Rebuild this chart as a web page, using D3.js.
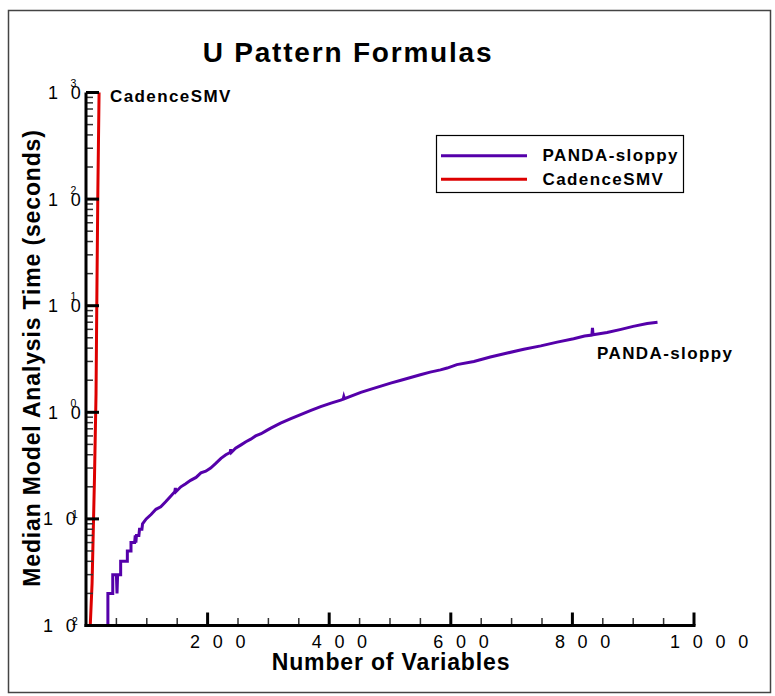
<!DOCTYPE html>
<html><head><meta charset="utf-8">
<script src="https://cdn.jsdelivr.net/npm/d3@7"></script>
<style>
body{margin:0;background:#fff}
svg{display:block}
text{font-family:"Liberation Sans",Arial,Helvetica,sans-serif;fill:#000}
</style>
</head><body>
<svg id="chart" width="775" height="696"></svg>
<script>
// ---- data ----
const chartTitle = "U Pattern Formulas";
const xTitle = "Number of Variables";
const yTitle = "Median Model Analysis Time (seconds)";
const seriesNames = ["PANDA-sloppy", "CadenceSMV"];
const seriesColors = ["#5500aa", "#dd0000"];
const xTickValues = [200, 400, 600, 800, 1000];
const xMinorValues = [50,100,150,250,300,350,450,500,550,650,700,750,850,900,950];
const yTickValues = [0.01, 0.1, 1, 10, 100, 1000];
const yTickExponents = ["2", "1", "0", "1", "2", "3"];

const pandaVars  = [36,36,44,44,50,51,52,57,57,68,68,74,74,80,81,82,83,87,88,92,93,
  99,107,115,123,131,140,146,147,148,156,164,172,181,189,197,205,213,222,230,237,238,239,246,255,263,271,279,288,296,304,312,320,337,353,370,386,403,419,423,424,425,436,452,469,485,501,518,534,550,566,583,594,610,638,665,693,720,748,775,802,820,832,833,834,857,880,900,923,940];
const pandaTimes = [0.01,0.02,0.02,0.03,0.03,0.02,0.03,0.03,0.04,0.04,0.05,0.05,0.06,0.06,0.07,0.06,0.07,0.07,0.08,0.08,0.09,
  0.1,0.11,0.123,0.13,0.145,0.165,0.18,0.195,0.18,0.2,0.214,0.23,0.245,0.27,0.28,0.3,0.33,0.37,0.4,0.42,0.45,0.42,0.46,0.495,0.53,0.56,0.6,0.63,0.67,0.71,0.75,0.79,0.87,0.95,1.04,1.13,1.22,1.3,1.33,1.4,1.34,1.42,1.54,1.65,1.76,1.88,2.0,2.12,2.25,2.38,2.5,2.6,2.8,3.0,3.3,3.6,3.9,4.2,4.55,4.9,5.2,5.3,6.2,5.35,5.6,6.0,6.4,6.8,7.0];

const smvVars  = [7, 10, 14, 16.5, 18, 19.5, 21.5];
const smvTimes = [0.01, 0.025, 0.25, 1.5, 15, 120, 1000];

// ---- drawing ----
const svg = d3.select("#chart");
const x = d3.scaleLinear().domain([0, 1000]).range([86, 694]);
const y = d3.scaleLog().domain([0.01, 1000]).range([625.5, 92.5]);

// outer frame
svg.append("rect").attr("x", 8.5).attr("y", 10.5).attr("width", 762).attr("height", 682)
  .attr("fill", "none").attr("stroke", "#444").attr("stroke-width", 1.5);

// title
svg.append("text").attr("x", 348).attr("y", 62).attr("text-anchor", "middle")
  .style("font-size", "28px").style("font-weight", "bold").style("letter-spacing", "1.8px")
  .text(chartTitle);

// lines
const line = d3.line().x(d => x(d[0])).y(d => y(d[1]));
const pandaData = pandaVars.map((v, i) => [v, pandaTimes[i]]);
const smvData = smvVars.map((v, i) => [v, smvTimes[i]]);
svg.append("path").datum(pandaData).attr("d", line).attr("fill", "none")
  .attr("stroke", seriesColors[0]).attr("stroke-width", 3).attr("stroke-linejoin", "miter");
svg.append("path").datum(smvData).attr("d", line).attr("fill", "none")
  .attr("stroke", seriesColors[1]).attr("stroke-width", 3);

// y minor ticks
const yMinor = [];
yTickValues.slice(0, -1).forEach(d => { for (let k = 2; k <= 9; k++) yMinor.push(d * k); });
svg.append("g").selectAll("line").data(yMinor).join("line")
  .attr("x1", x(0)).attr("x2", x(0) + 7).attr("y1", d => y(d)).attr("y2", d => y(d))
  .attr("stroke", "#333").attr("stroke-width", 1.5);
// y major ticks
svg.append("g").selectAll("line").data(yTickValues).join("line")
  .attr("x1", x(0)).attr("x2", x(0) + 13).attr("y1", d => y(d)).attr("y2", d => y(d))
  .attr("stroke", "#000").attr("stroke-width", 3);
// x minor ticks
svg.append("g").selectAll("line").data(xMinorValues).join("line")
  .attr("x1", d => x(d)).attr("x2", d => x(d)).attr("y1", y(0.01)).attr("y2", y(0.01) - 7.5)
  .attr("stroke", "#333").attr("stroke-width", 1.5);
// x major ticks
svg.append("g").selectAll("line").data(xTickValues).join("line")
  .attr("x1", d => x(d)).attr("x2", d => x(d)).attr("y1", y(0.01)).attr("y2", y(0.01) - 13)
  .attr("stroke", "#000").attr("stroke-width", 3);

// axis lines
svg.append("line").attr("x1", x(0)).attr("x2", x(0)).attr("y1", y(0.01) + 1.5).attr("y2", y(1000))
  .attr("stroke", "#000").attr("stroke-width", 3);
svg.append("line").attr("x1", x(0) - 1.5).attr("x2", x(1000) + 1.5).attr("y1", y(0.01)).attr("y2", y(0.01))
  .attr("stroke", "#000").attr("stroke-width", 3);

// x tick labels
svg.append("g").selectAll("text").data(xTickValues).join("text")
  .attr("x", d => x(d) - (String(d).length === 4 ? 24 : 17.5)).attr("y", 647.5)
  .style("font-size", "18px").style("letter-spacing", "3.85px")
  .text(d => String(d).split("").join(" "));

// y tick labels
const yl = svg.append("g");
yTickValues.forEach((d, i) => {
  const neg = d < 1;
  yl.append("text").attr("x", neg ? 43 : 48).attr("y", y(d) + 6.5)
    .style("font-size", "18px").style("letter-spacing", "3.85px").text("1 0");
  yl.append("text").attr("x", neg ? 72 : 70.5).attr("y", y(d) + (neg ? -1 : -5.5))
    .style("font-size", "10.5px").text(yTickExponents[i]);
});

// axis titles
svg.append("text").attr("x", 391).attr("y", 670).attr("text-anchor", "middle")
  .style("font-size", "23px").style("font-weight", "bold").style("letter-spacing", "0.85px")
  .text(xTitle);
svg.append("text").attr("transform", "translate(40,358) rotate(-90)").attr("text-anchor", "middle")
  .style("font-size", "23px").style("font-weight", "bold").style("letter-spacing", "0.85px")
  .text(yTitle);

// legend
const lg = svg.append("g");
lg.append("rect").attr("x", 436.5).attr("y", 135.5).attr("width", 247).attr("height", 57)
  .attr("fill", "#fff").attr("stroke", "#000").attr("stroke-width", 1.2);
seriesNames.forEach((n, i) => {
  const yy = 155.7 + i * 23.6;
  lg.append("line").attr("x1", 441).attr("x2", 527).attr("y1", yy).attr("y2", yy)
    .attr("stroke", seriesColors[i]).attr("stroke-width", 3);
  lg.append("text").attr("x", 542.5).attr("y", yy + 5.5)
    .style("font-size", "17px").style("font-weight", "bold").style("letter-spacing", "1.4px")
    .text(n);
});

// curve labels
svg.append("text").attr("x", 110).attr("y", 102)
  .style("font-size", "17px").style("font-weight", "bold").style("letter-spacing", "1.4px")
  .text(seriesNames[1]);
svg.append("text").attr("x", 597).attr("y", 359)
  .style("font-size", "17px").style("font-weight", "bold").style("letter-spacing", "1.4px")
  .text(seriesNames[0]);
</script>
</body></html>
